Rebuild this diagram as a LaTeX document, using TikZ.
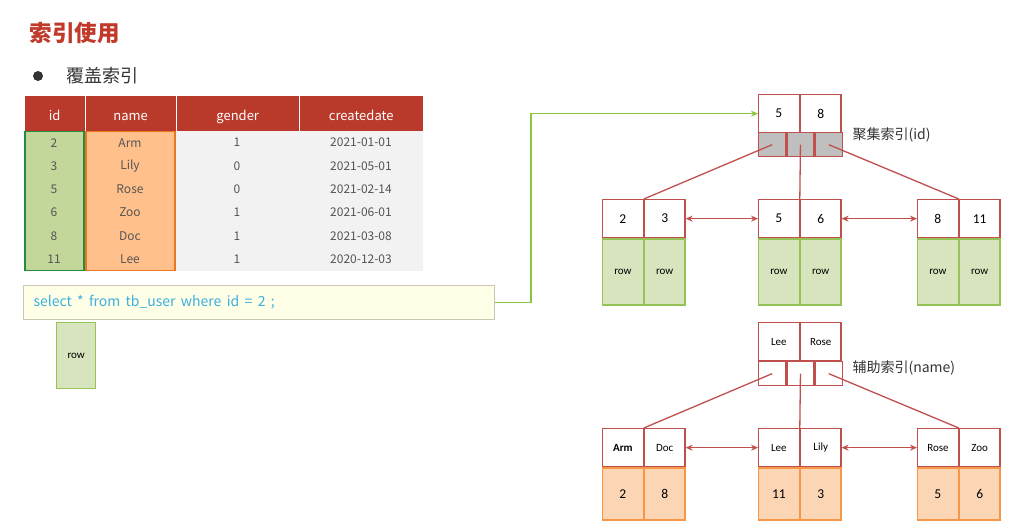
\documentclass[tikz,border=0pt]{standalone}
\usepackage{fontspec}
\setmainfont{Noto Sans CJK SC}
\newfontfamily\treefont{Carlito}
\newfontfamily\sqlfont[WordSpace=1.7]{Noto Sans CJK SC}
\usetikzlibrary{positioning, arrows.meta}
\definecolor{titlered}{RGB}{192,57,43}
\definecolor{headred}{RGB}{185,58,42}
\definecolor{bodygray}{RGB}{242,242,242}
\definecolor{idfill}{RGB}{196,215,155}
\definecolor{iddraw}{RGB}{35,140,65}
\definecolor{namefill}{RGB}{255,192,140}
\definecolor{namedraw}{RGB}{236,118,30}
\definecolor{treered}{RGB}{192,80,77}
\definecolor{ptrgray}{RGB}{191,191,191}
\definecolor{rowfill}{RGB}{215,228,189}
\definecolor{rowdraw}{RGB}{150,195,85}
\definecolor{valfill}{RGB}{252,213,180}
\definecolor{valdraw}{RGB}{247,150,70}
\definecolor{sqlfill}{RGB}{255,254,230}
\definecolor{sqldraw}{RGB}{200,200,180}
\definecolor{sqltext}{RGB}{58,176,226}
\definecolor{linkgreen}{RGB}{140,198,63}
\definecolor{textgray}{RGB}{85,85,85}

\tikzset{
  head/.style={fill=headred, draw=white, text=white, minimum height=36pt, inner sep=0pt, text height=15pt, text depth=0pt, font=\fontsize{13}{15}\selectfont},
  cell/.style={text=textgray, inner sep=0pt, font=\fontsize{12}{14}\selectfont},
  keycell/.style={draw=treered, fill=white, line width=1.3pt, minimum width=40.5pt, minimum height=38pt, inner sep=0pt, font=\treefont\fontsize{13.5}{15}\selectfont},
  namekey/.style={keycell, font=\treefont\fontsize{11}{13}\selectfont},
  ptr/.style={draw=treered, line width=1.3pt, minimum width=27pt, minimum height=24pt, inner sep=0pt},
  rowcell/.style={draw=rowdraw, fill=rowfill, line width=1.3pt, minimum width=40.5pt, minimum height=66pt, inner sep=0pt, font=\treefont\fontsize{11}{13}\selectfont},
  valcell/.style={draw=valdraw, fill=valfill, line width=1.3pt, minimum width=40.5pt, minimum height=52pt, inner sep=0pt, font=\treefont\fontsize{13.5}{15}\selectfont},
  idxlabel/.style={anchor=west, text=black!80, font=\fontsize{14}{16}\selectfont},
  link/.style={treered, line width=1.3pt},
  dlink/.style={treered, line width=1.3pt, {Stealth[length=7pt,width=6pt]}-{Stealth[length=7pt,width=6pt]}},
}

\begin{document}
\begin{tikzpicture}[x=1pt, y=-1pt]
    \useasboundingbox (0,0) rectangle (1030,523);
    % title
    \node[anchor=west, text=titlered, font=\fontsize{22.5}{26}\selectfont\bfseries] (title) at (26,33) {索引使用};
    \node[circle, fill=black!80, minimum size=10pt, inner sep=0pt] (dot) at (38,76) {};
    \node[anchor=west, text=black!80, font=\fontsize{18}{21}\selectfont] (sub) at (63,76) {覆盖索引};
    % table
    \foreach \nm/\x/\w/\t in {hid/24/61/id, hname/85/91/name, hgender/176/123/gender, hdate/299/124/createdate}
        \node[head, minimum width=\w pt, anchor=north west] (\nm) at (\x,95) {\t};
    \fill[bodygray] (24,131) rectangle (423,271);
    \draw[iddraw, fill=idfill, line width=1.8pt] (25,131.5) rectangle (84,270.5);%id列
    \draw[namedraw, fill=namefill, line width=1.8pt] (86,131.5) rectangle (175,270.5);%name列
    \foreach \i/\n/\g/\d [count=\r] in {2/Arm/1/2021-01-01, 3/Lily/0/2021-05-01, 5/Rose/0/2021-02-14, 6/Zoo/1/2021-06-01, 8/Doc/1/2021-03-08, 11/Lee/1/2020-12-03}{
        \pgfmathsetmacro{\y}{131+23.3*(\r-0.5)}
        \node[cell] (id\r) at (54,\y) {\i};
        \node[cell] (nm\r) at (130,\y) {\n};
        \node[cell] (gd\r) at (237,\y) {\g};
        \node[cell] (dt\r) at (361,\y) {\d};
    }
    % sql
    \node[draw=sqldraw, fill=sqlfill, line width=1pt, minimum width=471pt, minimum height=34pt, anchor=north west] (sql) at (23,285) {};
    \node[anchor=west, text=sqltext, font=\sqlfont\fontsize{14}{16}\selectfont] (sqltxt) at (30,302) {select * from tb\_user where id = 2 ;};
    \node[rowcell, minimum width=39pt, anchor=north west] (res) at (56,322) {row};
    % clustered index
    \node[keycell, anchor=north west] (ra) at (758,94) {5};
    \node[keycell, right=0pt of ra] (rb) {8};
    \node[ptr, fill=ptrgray, anchor=north west] (pa) at (758,132) {};
    \node[ptr, fill=ptrgray, right=0pt of pa] (pb) {};
    \node[ptr, fill=ptrgray, right=0pt of pb] (pc) {};
    \node[idxlabel] (clab) at (849,135) {聚集索引(id)};
    \foreach \nm/\x/\a/\b in {c1/602/2/3, c2/758/5/6, c3/917/8/11}{
        \node[keycell, anchor=north west] (\nm a) at (\x,199) {\a};
        \node[keycell, right=0pt of \nm a] (\nm b) {\b};
        \node[rowcell, below=0pt of \nm a] (\nm c) {row};
        \node[rowcell, below=0pt of \nm b] (\nm d) {row};
    }
    \draw[link] (pa.center) -- (c1a.north east);
    \draw[link] (pb.center) -- (c2a.north east);
    \draw[link] (pc.center) -- (c3a.north east);
    \draw[dlink] (c1b.east) -- (c2a.west);
    \draw[dlink] (c2b.east) -- (c3a.west);
    % secondary index
    \node[namekey, anchor=north west] (sa) at (758,322) {Lee};
    \node[namekey, right=0pt of sa] (sb) {Rose};
    \node[ptr, anchor=north west] (qa) at (758,361) {};
    \node[ptr, right=0pt of qa] (qb) {};
    \node[ptr, right=0pt of qb] (qc) {};
    \node[idxlabel] (slab) at (849,368) {辅助索引(name)};
    \foreach \nm/\x/\a/\b/\u/\v in {s1/602/\textbf{Arm}/Doc/2/8, s2/758/Lee/Lily/11/3, s3/917/Rose/Zoo/5/6}{
        \node[namekey, anchor=north west] (\nm a) at (\x,428) {\a};
        \node[namekey, right=0pt of \nm a] (\nm b) {\b};
        \node[valcell, below=0pt of \nm a] (\nm c) {\u};
        \node[valcell, below=0pt of \nm b] (\nm d) {\v};
    }
    \draw[link] (qa.center) -- (s1a.north east);
    \draw[link] (qb.center) -- (s2a.north east);
    \draw[link] (qc.center) -- (s3a.north east);
    \draw[dlink] (s1b.east) -- (s2a.west);
    \draw[dlink] (s2b.east) -- (s3a.west);
    % query to root
    \draw[linkgreen, line width=1.2pt, -{Stealth[length=7pt,width=6pt]}] (sql.east) -- ++(36,0) |- (ra.west);
\end{tikzpicture}
\end{document}
